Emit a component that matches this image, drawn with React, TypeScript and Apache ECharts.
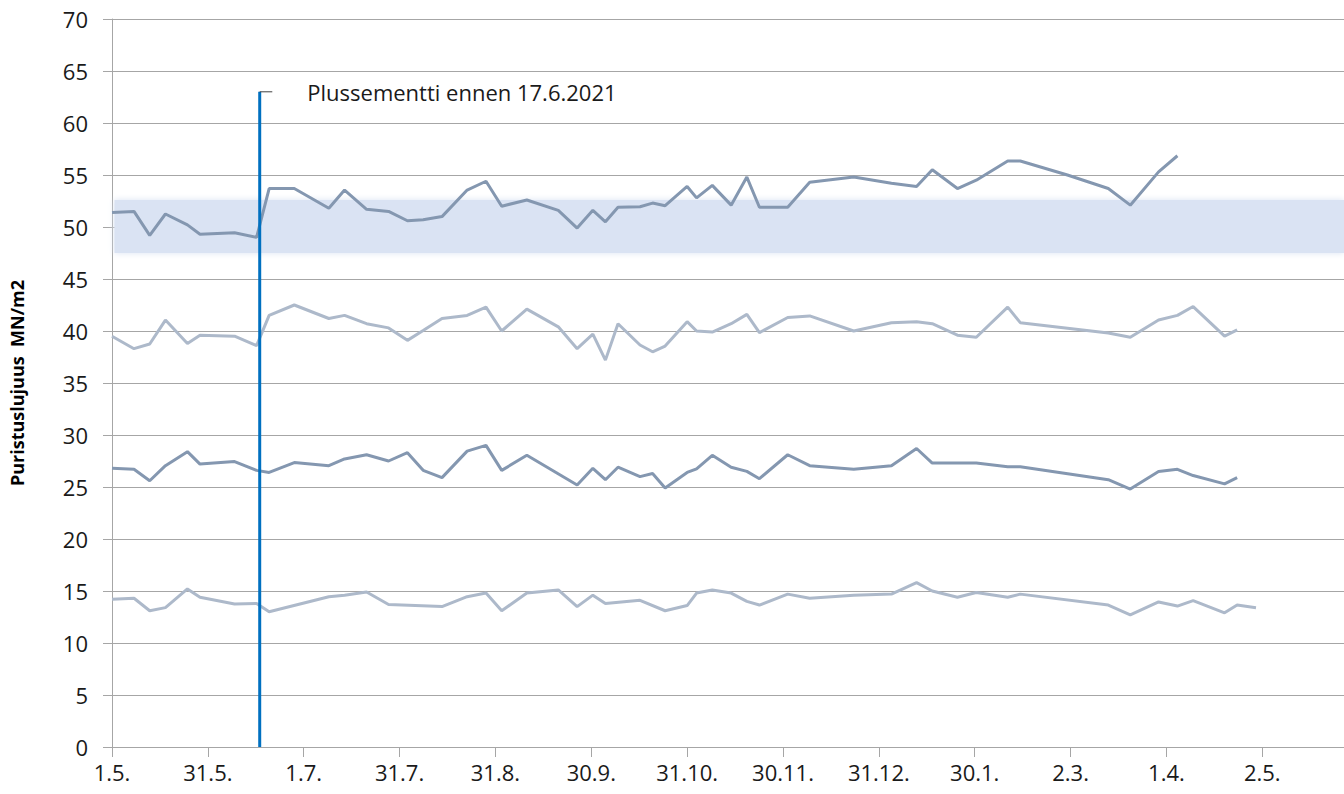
import React, { useEffect, useRef } from 'react';
import * as echarts from 'echarts';

// X axis tick labels (every ~30.5 days starting 1.5.2021)
const xLabels = ['1.5.', '31.5.', '1.7.', '31.7.', '31.8.', '30.9.', '31.10.', '30.11.', '31.12.', '30.1.', '2.3.', '1.4.', '2.5.'];
const tickStepDays = 30.5;

// sample days (days since 1.5.2021)
const sampleDays = [0, 7, 12, 17, 24, 28, 39, 46, 50, 58, 69, 74, 81, 88, 94, 99, 105, 113, 119, 124, 132, 142, 148, 153, 157, 161, 168, 172, 176, 183, 186, 191, 197, 202, 206, 215, 222, 236, 248, 256, 261, 269, 275, 285, 289, 304, 317, 324, 333, 339, 344, 354, 358, 364];

// 28 d strength
const s28 = [51.4, 51.5, 49.2, 51.25, 50.2, 49.3, 49.45, 49.0, 53.7, 53.7, 51.8, 53.55, 51.7, 51.5, 50.6, 50.7, 51.0, 53.55, 54.4, 52.0, 52.6, 51.6, 49.9, 51.6, 50.5, 51.9, 51.95, 52.3, 52.05, 53.9, 52.8, 54.0, 52.1, 54.8, 51.9, 51.9, 54.3, 54.8, 54.2, 53.9, 55.5, 53.7, 54.5, 56.35, 56.35, 55.0, 53.7, 52.1, 55.3, 56.85, null, null, null, null];
// 7 d strength
const s7 = [39.5, 38.3, 38.75, 41.05, 38.8, 39.6, 39.5, 38.6, 41.5, 42.5, 41.2, 41.5, 40.7, 40.3, 39.1, 40.05, 41.2, 41.5, 42.3, 40.0, 42.1, 40.4, 38.3, 39.7, 37.2, 40.7, 38.65, 38.0, 38.55, 40.9, 40.0, 39.9, 40.7, 41.6, 39.85, 41.3, 41.45, 40.0, 40.8, 40.9, 40.7, 39.6, 39.4, 42.3, 40.8, null, 39.8, 39.4, 41.05, 41.5, 42.35, 39.5, 40.1, null];
// 2 d strength
const s2 = [26.8, 26.7, 25.6, 27.05, 28.4, 27.2, 27.45, 26.6, 26.4, 27.35, 27.05, 27.7, 28.1, 27.5, 28.3, 26.6, 25.9, 28.45, 29.0, 26.6, 28.05, null, 25.2, 26.8, 25.7, 26.9, 26.0, 26.3, 24.9, 26.4, 26.75, 28.05, 26.9, 26.5, 25.8, 28.1, 27.05, 26.7, 27.05, 28.7, 27.3, null, 27.3, 26.95, 26.95, null, 25.7, 24.8, 26.5, 26.7, 26.1, 25.3, 25.9, null];
// 1 d strength
const s1 = [14.2, 14.3, 13.1, 13.4, 15.2, 14.4, 13.75, 13.8, 13.0, null, 14.45, 14.6, 14.9, 13.7, null, null, 13.5, 14.45, 14.8, 13.1, 14.8, 15.1, 13.5, 14.6, 13.8, null, 14.1, null, 13.1, 13.6, 14.8, 15.1, 14.8, 14.0, 13.65, 14.7, 14.3, 14.6, 14.7, 15.8, 15.0, 14.4, 14.85, 14.4, 14.7, null, 13.65, 12.7, 13.95, 13.55, 14.07, 12.9, 13.65, 13.4];

// target band & cement change marker
const bandLow = 47.5;
const bandHigh = 52.6;
const bandStartDay = 0.8;
const axisMaxDay = 392;
const markerDay = 47; // 17.6.2021
const markerTop = 63;
const leaderEndDay = 51;
const markerText = 'Plussementti ennen 17.6.2021';

const FONT = '"Open Sans", "Noto Sans", sans-serif';
const DARK = '#8497b0';
const LIGHT = '#adb9ca';

const toPairs = (vals: (number | null)[]) =>
  sampleDays.map((d, i) => [d, vals[i]]).filter((p) => p[1] !== null);

export default function App() {
  const ref = useRef<HTMLDivElement>(null);
  useEffect(() => {
    const chart = echarts.init(ref.current!, null, { renderer: 'svg' });
    const lineBase = {
      type: 'line',
      showSymbol: false,
      symbol: 'none',
      smooth: false,
      silent: true,
    };
    chart.setOption({
      animation: false,
      backgroundColor: '#ffffff',
      grid: { left: 108.5, right: 0, top: 19, bottom: 47, containLabel: false },
      xAxis: {
        type: 'value',
        min: 0,
        max: axisMaxDay,
        interval: tickStepDays,
        axisLine: { show: true, lineStyle: { color: '#a6a6a6', width: 1 } },
        axisTick: { show: true, length: 10, lineStyle: { color: '#a6a6a6' } },
        splitLine: { show: false },
        axisLabel: {
          margin: 14,
          fontFamily: FONT,
          fontSize: 22,
          color: '#1a1a1a',
          showMaxLabel: false,
          formatter: (v: number) => {
            const i = Math.round(v / tickStepDays);
            return Math.abs(v - i * tickStepDays) < 0.01 ? xLabels[i] ?? '' : '';
          },
        },
      },
      yAxis: {
        type: 'value',
        min: 0,
        max: 70,
        interval: 5,
        name: 'Puristuslujuus  MN/m2',
        nameLocation: 'middle',
        nameRotate: 90,
        nameGap: 86,
        nameTextStyle: { fontFamily: FONT, fontSize: 18, fontWeight: 'bold', color: '#000' },
        axisLine: { show: true, lineStyle: { color: '#a6a6a6', width: 1 } },
        axisTick: { show: true, inside: false, length: 9, lineStyle: { color: '#a6a6a6' } },
        splitLine: { show: true, lineStyle: { color: '#a6a6a6', width: 1 } },
        axisLabel: { margin: 24, fontFamily: FONT, fontSize: 22, color: '#1a1a1a' },
      },
      series: [
        {
          ...lineBase,
          name: '28 vrk',
          data: toPairs(s28),
          lineStyle: { color: DARK, width: 3 },
          z: 3,
          markArea: {
            silent: true,
            itemStyle: { color: '#dae3f3', shadowBlur: 6, shadowColor: '#dae3f3' },
            data: [[{ coord: [bandStartDay, bandLow] }, { coord: [axisMaxDay, bandHigh] }]],
          },
        },
        { ...lineBase, name: '7 vrk', data: toPairs(s7), lineStyle: { color: LIGHT, width: 3 }, z: 3 },
        { ...lineBase, name: '2 vrk', data: toPairs(s2), lineStyle: { color: DARK, width: 3 }, z: 3 },
        { ...lineBase, name: '1 vrk', data: toPairs(s1), lineStyle: { color: LIGHT, width: 3 }, z: 3 },
        {
          ...lineBase,
          name: 'marker',
          data: [[markerDay, 0], [markerDay, markerTop]],
          lineStyle: { color: '#0070c0', width: 3 },
          z: 6,
        },
        {
          ...lineBase,
          name: 'leader',
          data: [[markerDay, markerTop], [leaderEndDay, markerTop]],
          lineStyle: { color: '#404040', width: 1 },
          z: 6,
          endLabel: {
            show: true,
            formatter: markerText,
            distance: 35,
            fontFamily: FONT,
            fontSize: 22,
            color: '#1a1a1a',
          },
        },
      ],
    });
    return () => chart.dispose();
  }, []);
  return (
    <div
      ref={ref}
      style={{ position: 'fixed', left: 0, top: 0, width: 1344, height: 794, background: '#fff' }}
    />
  );
}
